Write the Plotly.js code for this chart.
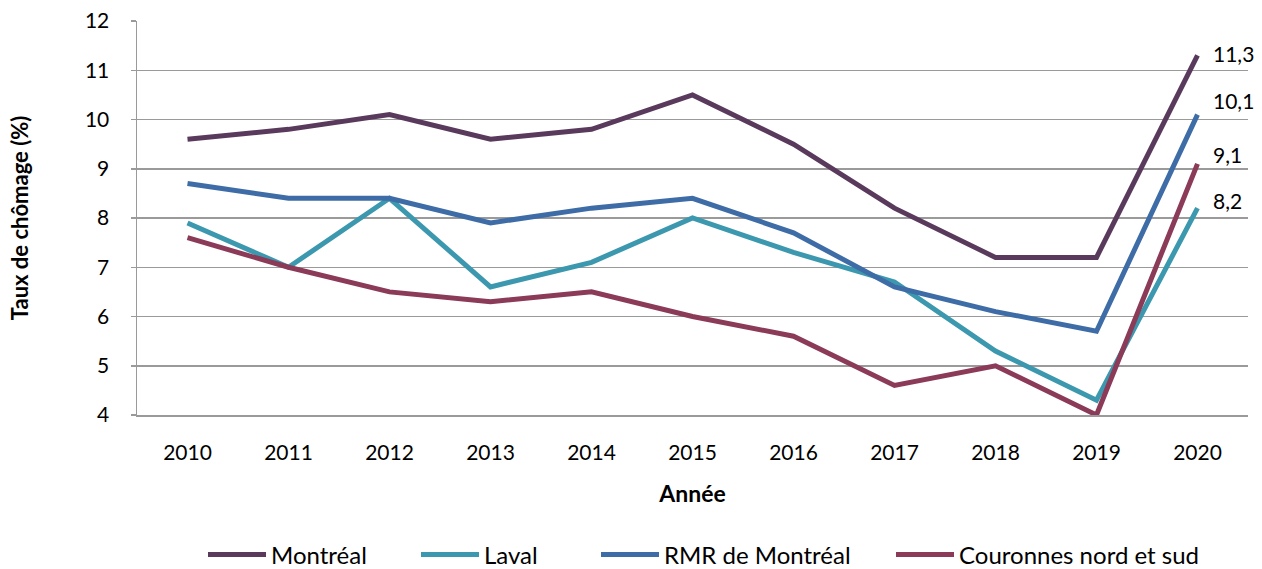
<!DOCTYPE html>
<html>
<head>
<meta charset="utf-8">
<script src="https://cdn.plot.ly/plotly-3.0.1.min.js"></script>
<style>
html, body { margin: 0; padding: 0; background: #fff; }
#chart { width: 1262px; height: 569px; }
</style>
</head>
<body>
<div id="chart"></div>
<script>
const years = ['2010','2011','2012','2013','2014','2015','2016','2017','2018','2019','2020'];
const montreal   = [9.6, 9.8, 10.1, 9.6, 9.8, 10.5, 9.5, 8.2, 7.2, 7.2, 11.3];
const laval      = [7.9, 7.0, 8.4, 6.6, 7.1, 8.0, 7.3, 6.7, 5.3, 4.3, 8.2];
const rmr        = [8.7, 8.4, 8.4, 7.9, 8.2, 8.4, 7.7, 6.6, 6.1, 5.7, 10.1];
const couronnes  = [7.6, 7.0, 6.5, 6.3, 6.5, 6.0, 5.6, 4.6, 5.0, 4.0, 9.1];
const seriesNames = ['Montréal', 'Laval', 'RMR de Montréal', 'Couronnes nord et sud'];
const endLabels = ['11,3', '10,1', '9,1', '8,2'];
const yTickVals = [4, 5, 6, 7, 8, 9, 10, 11, 12];

const colors = ['#5a3a5c', '#3c98ae', '#3e6ca6', '#8b3a57'];
const seriesData = [montreal, laval, rmr, couronnes];
const FONT = 'Lato, "Open Sans", sans-serif';
const legendIds = ['legend', 'legend2', 'legend3', 'legend4'];
// left edge (px) of each legend entry
const legendLeft = [203, 416, 596, 891];

const traces = seriesData.map((vals, i) => ({
  type: 'scatter',
  mode: 'lines',
  x: years,
  y: vals,
  name: seriesNames[i],
  legend: legendIds[i],
  line: { color: colors[i], width: 5 },
  hoverinfo: 'skip'
}));

// end-of-line data labels (2020 values)
const labelSeries = [montreal, rmr, couronnes, laval];
const labelShift = [2, 14, 9, 8];
const lastIdx = years.length - 1;
const annotations = endLabels.map((t, i) => ({
  x: lastIdx,
  y: labelSeries[i][lastIdx],
  xref: 'x', yref: 'y',
  text: t,
  showarrow: false,
  xanchor: 'left',
  yanchor: 'middle',
  xshift: 13,
  yshift: labelShift[i],
  font: { family: FONT, size: 21, color: '#000' }
}));

const layout = {
  width: 1262,
  height: 569,
  margin: { l: 137, r: 14, t: 21, b: 154 },
  paper_bgcolor: '#fff',
  plot_bgcolor: '#fff',
  font: { family: FONT, color: '#000' },
  showlegend: true,
  xaxis: {
    type: 'category',
    range: [-0.5, 10.5],
    showgrid: false,
    zeroline: false,
    showline: true,
    linecolor: '#9a9a9a',
    linewidth: 1.5,
    ticks: '',
    ticklabelstandoff: 18,
    tickfont: { family: FONT, size: 21, color: '#000' },
    title: { text: 'Année', font: { family: FONT, size: 23, color: '#000', weight: 'bold' }, standoff: 23 },
    automargin: false,
    fixedrange: true
  },
  yaxis: {
    range: [4, 12],
    tickvals: yTickVals,
    ticktext: yTickVals.map(String),
    showgrid: true,
    gridcolor: '#9a9a9a',
    gridwidth: 1.5,
    zeroline: false,
    showline: true,
    linecolor: '#9a9a9a',
    linewidth: 1.5,
    ticks: 'outside',
    ticklen: 5,
    tickcolor: '#9a9a9a',
    tickwidth: 1.5,
    ticklabelstandoff: 17,
    tickfont: { family: FONT, size: 21, color: '#000' },
    title: { text: 'Taux de chômage (%)', font: { family: FONT, size: 22, color: '#000', weight: 'bold' }, standoff: 50 },
    automargin: false,
    fixedrange: true
  },
  annotations: annotations
};

legendIds.forEach((id, i) => {
  layout[id] = {
    xref: 'container', yref: 'container',
    x: legendLeft[i] / 1262, xanchor: 'left',
    y: 1 - 555 / 569, yanchor: 'middle',
    orientation: 'h',
    itemwidth: 58,
    bgcolor: 'rgba(0,0,0,0)',
    borderwidth: 0,
    font: { family: FONT, size: 24, color: '#000' }
  };
});

Plotly.newPlot('chart', traces, layout, { displayModeBar: false, staticPlot: true });
</script>
</body>
</html>
